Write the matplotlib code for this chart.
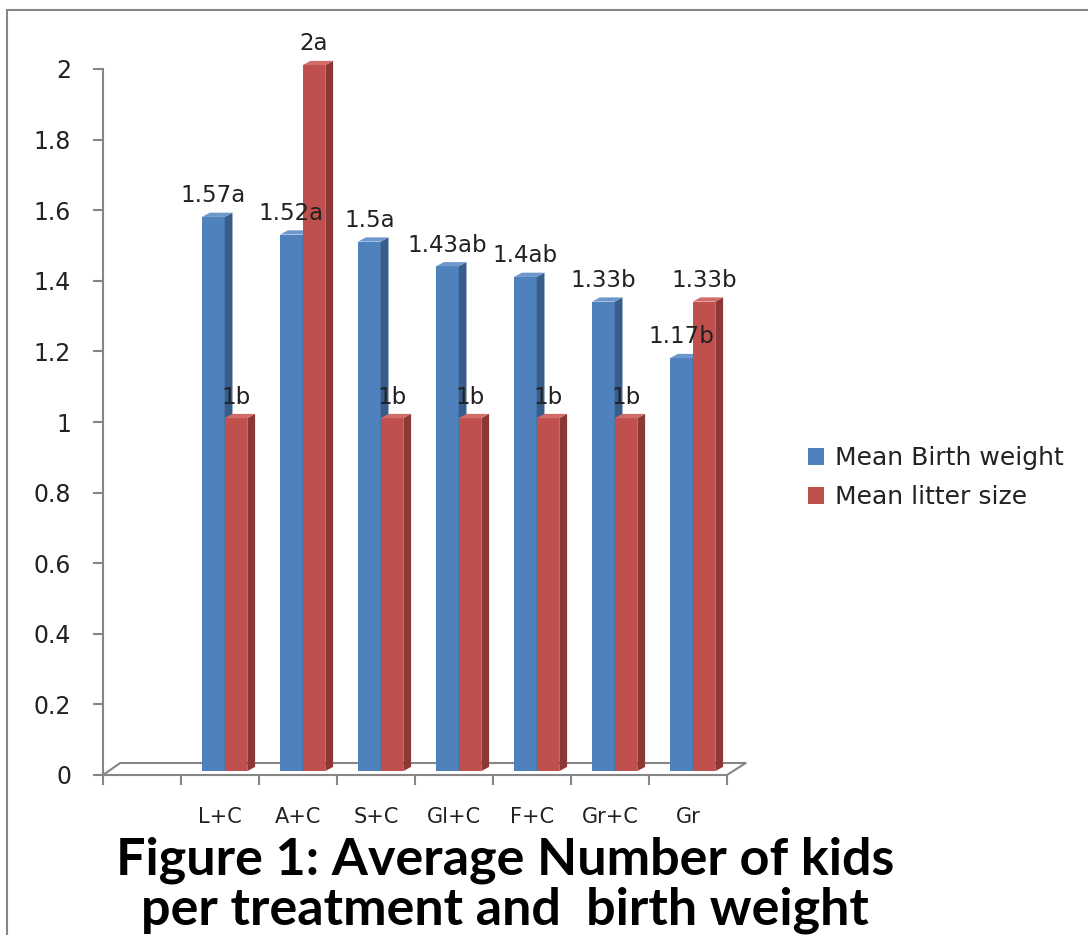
import numpy as np
import matplotlib
matplotlib.use("Agg")
import matplotlib.pyplot as plt
from matplotlib.patches import Polygon, Rectangle, Patch

# data
categories = ["L+C", "A+C", "S+C", "Gl+C", "F+C", "Gr+C", "Gr"]
birth_weight = [1.57, 1.52, 1.5, 1.43, 1.4, 1.33, 1.17]
litter_size = [1, 2, 1, 1, 1, 1, 1.33]
bw_labels = ["1.57a", "1.52a", "1.5a", "1.43ab", "1.4ab", "1.33b", "1.17b"]
ls_labels = ["1b", "2a", "1b", "1b", "1b", "1b", "1.33b"]
series_names = ["Mean Birth weight", "Mean litter size"]
yticks = [0, 0.2, 0.4, 0.6, 0.8, 1.0, 1.2, 1.4, 1.6, 1.8, 2.0]

# office 2007 colours: front, side, top
blue = ("#4F81BD", "#385D8A", "#6E98CC")
red = ("#C0504D", "#8C3836", "#D06C69")
grey = "#868686"

plt.rcParams["font.family"] = "DejaVu Sans"

fig = plt.figure(figsize=(10.88, 9.35), dpi=100)
ax = fig.add_axes([103 / 1088, (935 - 775) / 935, 624 / 1088, 706 / 935])

n_slots = len(categories) + 1  # first slot of the category axis is empty
x = np.arange(1, n_slots)
width = 0.29
shift = 0.06
ddx, ddy = 0.10, 0.012      # depth of the fake 3d bars
lift = 0.011                # bars sit a little above the axis line


def bar3d(xc, values, cols):
    fronts = ax.bar(xc, values, width, bottom=lift, color=cols[0],
                    edgecolor="none", zorder=3, clip_on=False)
    for xi, v in zip(xc, values):
        x1 = xi + width / 2
        x0 = xi - width / 2
        side = Polygon([(x1, lift), (x1 + ddx, lift + ddy), (x1 + ddx, v + lift + ddy), (x1, v + lift)],
                       closed=True, facecolor=cols[1], edgecolor="none", zorder=3, clip_on=False)
        top = Polygon([(x0, v + lift), (x0 + ddx, v + lift + ddy), (x1 + ddx, v + lift + ddy), (x1, v + lift)],
                      closed=True, facecolor=cols[2], edgecolor="none", zorder=3, clip_on=False)
        ax.add_patch(side)
        ax.add_patch(top)
    return fronts


xb = x + shift - width / 2
xr = x + shift + width / 2
bar3d(xb, birth_weight, blue)
bar3d(xr, litter_size, red)

for xi, v, t in zip(xb, birth_weight, bw_labels):
    ax.annotate(t, (xi, v), xytext=(0, 18), textcoords="offset points",
                ha="center", va="center", fontsize=16.5, color="#222222", zorder=5)
for xi, v, t in zip(xr, litter_size, ls_labels):
    ax.annotate(t, (xi, v), xytext=(0, 18), textcoords="offset points",
                ha="center", va="center", fontsize=16.5, color="#222222", zorder=5)

# floor of the 3d plot
fx, fy = 0.22, 0.034
ax.plot([-0.5, -0.5 + fx, n_slots - 0.5 + fx + 0.02, n_slots - 0.5],
        [0, fy, fy, 0], color=grey, lw=1.5, clip_on=False, zorder=2)

ax.set_xlim(-0.5, n_slots - 0.5)
ax.set_ylim(0, 2)
for s in ["top", "right"]:
    ax.spines[s].set_visible(False)
for s in ["left", "bottom"]:
    ax.spines[s].set_color(grey)
    ax.spines[s].set_linewidth(1.5)

ax.set_yticks(yticks)
ax.set_yticklabels(["%g" % t for t in yticks])
ax.tick_params(axis="y", direction="out", length=7, width=1.5, color=grey,
               labelsize=17, labelcolor="#222222", pad=16)

ax.set_xticks(np.arange(-0.5, n_slots, 1.0))
ax.set_xticklabels([])
ax.tick_params(axis="x", which="major", direction="out", length=7, width=1.5, color=grey)
ax.set_xticks(x, minor=True)
ax.set_xticklabels(categories, minor=True)
ax.tick_params(axis="x", which="minor", length=0, labelsize=15, labelcolor="#222222", pad=23)

handles = [Patch(facecolor=blue[0]), Patch(facecolor=red[0])]
fig.legend(handles, series_names, loc="center left", bbox_to_anchor=(785 / 1088, 1 - 478 / 935),
           frameon=False, fontsize=18, handlelength=0.65, handleheight=0.65,
           handletextpad=0.45, labelspacing=0.6, labelcolor="#222222")

fig.text(505 / 1088, 1 - 860 / 935, "Figure 1: Average Number of kids",
         ha="center", va="center", fontsize=37.5, fontweight="bold", family="Lato")
fig.text(505 / 1088, 1 - 910 / 935, "per treatment and  birth weight",
         ha="center", va="center", fontsize=37.5, fontweight="bold", family="Lato")

# grey chart border, cut off at right and bottom as in the picture
fig.patches.append(Rectangle((7 / 1088, -0.1), 1.2, 1.1 - 10 / 935, transform=fig.transFigure,
                             fill=False, edgecolor=grey, lw=1.5))

fig.savefig("out.png", dpi=100)
